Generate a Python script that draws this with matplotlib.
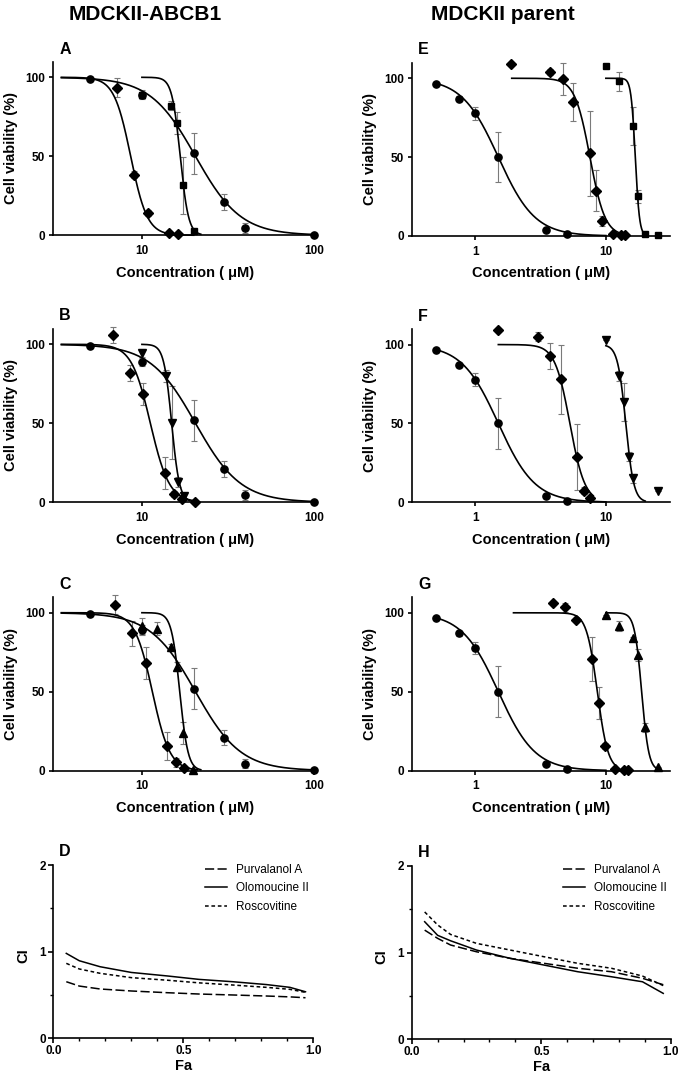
import numpy as np
import matplotlib.pyplot as plt
from matplotlib.lines import Line2D
from matplotlib.ticker import NullLocator

plt.rcParams["font.family"] = ["Liberation Sans", "DejaVu Sans"]

W, H = 683, 1081

# ---------------- data ----------------
# MDCKII-ABCB1, circle series (shared by A, B, C)
abcb1_circ_x = [5, 10, 20, 30, 40, 100]
abcb1_circ_y = [99, 89, 52, 21, 4.5, 0.3]
abcb1_circ_err = [1, 3, 13, 5, 3, 0.5]
abcb1_circ_fit = (20.5, 3.3, 3.4, 100)  # IC50, hill slope, curve start, curve end

# panel A
a_dia_x = [7.2, 9, 10.8, 14.4, 16.2]
a_dia_y = [93.5, 38.4, 14, 1.7, 1]
a_dia_err = [6, 2, 2, 1, 1]
a_dia_fit = (8.6, 9.0, 3.4, 20)
a_sq_x = [10, 14.67, 16, 17.33, 20]
a_sq_y = [88.6, 82, 71, 31.6, 2.7]
a_sq_err = [2, 3, 7, 18, 1]
a_sq_fit = (16.7, 18.0, 10, 22)

# panel B
b_dia_x = [6.8, 8.5, 10.2, 13.6, 15.3, 17, 20.4]
b_dia_y = [106, 82, 68.6, 18.4, 5.3, 1.9, 0.4]
b_dia_err = [5, 5, 7, 10, 2, 1, 0.5]
b_dia_fit = (11.2, 7.9, 3.4, 21)
b_tri_x = [10, 13.75, 15, 16.25, 17.5]
b_tri_y = [94.3, 80, 50.4, 12.7, 4.2]
b_tri_err = [3, 4, 23, 3, 2]
b_tri_fit = (14.9, 19.0, 10, 19)

# panel C
c_dia_x = [7, 8.75, 10.5, 14, 15.75, 17.5]
c_dia_y = [105, 87, 68, 15.6, 5.3, 1.9]
c_dia_err = [6, 8, 10, 9, 3, 1]
c_dia_fit = (11.5, 8.5, 3.4, 21)
c_tri_x = [10, 12.3, 14.8, 16, 17.3, 19.7]
c_tri_y = [91.6, 90, 78, 65.8, 23.6, 0.4]
c_tri_err = [5, 4, 2, 3, 7, 0.5]
c_tri_fit = (16.6, 18.0, 10, 22)

# MDCKII parent, circle series (shared by E, F, G)
par_circ_x = [0.5, 0.75, 1, 1.5, 3.5, 5]
par_circ_y = [96.6, 87, 77.7, 50, 4, 1]
par_circ_err = [1, 1.5, 4, 16, 1, 0.5]
par_circ_fit = (1.5, 3.1, 0.5, 10)

# panel E
e_dia_x = [1.875, 3.75, 4.69, 5.63, 7.5, 8.44, 9.38, 11.25, 13.13, 14.06]
e_dia_y = [109, 104, 99.4, 84.7, 52.5, 28.6, 9.5, 1.3, 0.4, 0.4]
e_dia_err = [0, 2, 10, 12, 27, 13, 3, 0.5, 0.5, 0.5]
e_dia_fit = (7.55, 7.5, 1.9, 14)
e_sq_x = [10, 12.5, 16.25, 17.5, 20, 25]
e_sq_y = [108, 98, 70, 25.2, 1, 0.4]
e_sq_err = [0, 6, 12, 4, 0.5, 0.5]
e_sq_fit = (16.8, 27.0, 10, 20)

# panel F
f_dia_x = [1.5, 3, 3.75, 4.5, 6, 6.75, 7.5]
f_dia_y = [109.5, 105, 92.8, 78, 28.5, 7.4, 3]
f_dia_err = [0, 3, 8, 22, 21, 2, 1]
f_dia_fit = (5.3, 7.6, 1.5, 8)
f_tri_x = [10, 12.5, 13.75, 15, 16.25, 25]
f_tri_y = [103, 80, 63.7, 29, 15.2, 7.2]
f_tri_err = [0, 3, 12, 3, 3, 0]
f_tri_fit = (14.2, 14.0, 10, 20)

# panel G
g_dia_x = [3.92, 4.9, 5.88, 7.84, 8.82, 9.8, 11.76, 13.72, 14.7]
g_dia_y = [106.3, 103.4, 95.4, 70.5, 43, 15.8, 0.8, 0.4, 0.4]
g_dia_err = [0, 3, 1, 14, 10, 2, 0.5, 0.5, 0.5]
g_dia_fit = (8.6, 10.5, 1.96, 12)
g_tri_x = [10, 12.5, 16.25, 17.5, 20, 25]
g_tri_y = [98.9, 91.6, 83.8, 73.2, 27.4, 2.1]
g_tri_err = [0, 3, 1, 4, 3, 0.5]
g_tri_fit = (18.8, 16.0, 10, 25)

# combination index panels
ci_labels = ["Purvalanol A", "Olomoucine II", "Roscovitine"]
d_fa = [0.05, 0.1, 0.18, 0.3, 0.44, 0.56, 0.69, 0.82, 0.91, 0.97]
d_purv = [0.653, 0.603, 0.569, 0.546, 0.526, 0.511, 0.5, 0.488, 0.478, 0.468]
d_olo = [0.98, 0.895, 0.826, 0.76, 0.719, 0.68, 0.653, 0.62, 0.588, 0.537]
d_rosc = [0.865, 0.80, 0.75, 0.70, 0.67, 0.64, 0.615, 0.588, 0.565, 0.53]
h_fa = [0.05, 0.1, 0.15, 0.25, 0.38, 0.51, 0.64, 0.77, 0.89, 0.97]
h_purv = [1.26, 1.165, 1.088, 1.01, 0.934, 0.877, 0.82, 0.78, 0.704, 0.63]
h_olo = [1.357, 1.2, 1.137, 1.03, 0.934, 0.857, 0.78, 0.722, 0.664, 0.53]
h_rosc = [1.47, 1.32, 1.21, 1.107, 1.03, 0.953, 0.877, 0.82, 0.73, 0.62]

# ---------------- drawing ----------------
fig = plt.figure(figsize=(W / 100, H / 100), dpi=100)

SPINE_W = 1.2
LINE_W = 1.2
DASH_STYLES = [(0, (6, 2.2)), "solid", (0, (2.4, 1.8))]


def add_ax(left, top, right, bottom):
    return fig.add_axes([left / W, 1 - bottom / H, (right - left) / W, (bottom - top) / H])


def fig_text(x, y, s, **kw):
    fig.text(x / W, 1 - y / H, s, **kw)


def hill(x, ic50, slope):
    return 100.0 / (1.0 + (x / ic50) ** slope)


def style_axes(ax):
    for side in ("top", "right"):
        ax.spines[side].set_visible(False)
    for side in ("left", "bottom"):
        ax.spines[side].set_linewidth(SPINE_W)


def draw_series(ax, x, y, err, fit, marker, ms):
    ic50, slope, lo, hi = fit
    xs = np.geomspace(lo, hi, 300)
    ax.plot(xs, hill(xs, ic50, slope), color="black", lw=LINE_W, zorder=3, clip_on=False)
    ax.errorbar(x, y, yerr=err, fmt="none", ecolor="#7a7a7a", elinewidth=0.8,
                capsize=2, capthick=0.8, zorder=2, clip_on=False)
    ax.plot(x, y, ls="none", marker=marker, ms=ms, color="black", zorder=4, clip_on=False)


def dose_panel(box, xlim, xticks, letter, series):
    left, top, right, bottom = box
    ax = add_ax(left, top, right, bottom)
    style_axes(ax)
    ax.set_xscale("log")
    ax.set_xlim(*xlim)
    ax.set_ylim(0, 110)
    for s in series:
        draw_series(ax, *s)
    ax.set_xticks(xticks, labels=[str(t) for t in xticks], fontweight="bold")
    ax.xaxis.set_minor_locator(NullLocator())
    ax.set_yticks([0, 50, 100], labels=["0", "50", "100"], fontweight="bold")
    ax.tick_params(direction="out", length=3, width=SPINE_W, labelsize=8.5)
    ax.tick_params(axis="x", pad=4)
    ax.tick_params(axis="y", pad=3)
    cx = (left + right) / 2
    fig_text(cx, bottom + 41.5, "Concentration ( \u03bcM)", ha="center", va="baseline",
             fontsize=10.5, fontweight="bold")
    fig_text(left - 42, (top + bottom) / 2, "Cell viability (%)", ha="center", va="center",
             rotation=90, fontsize=10.5, fontweight="bold")
    fig_text(left + 6, top - 8, letter, ha="left", va="baseline", fontsize=11.5,
             fontweight="bold")
    return ax


def ci_panel(box, letter, fa, curves, legend_xy):
    left, top, right, bottom = box
    ax = add_ax(left, top, right, bottom)
    style_axes(ax)
    ax.set_xlim(0, 1)
    ax.set_ylim(0, 2)
    handles = []
    for vals, ls in zip(curves, DASH_STYLES):
        ax.plot(fa, vals, color="black", lw=1.1, ls=ls, zorder=3)
        handles.append(Line2D([], [], color="black", lw=1.1, ls=ls))
    ax.set_xticks([0, 0.5, 1.0], labels=["0.0", "0.5", "1.0"], fontweight="bold")
    ax.set_xticks(np.arange(0.1, 1.0, 0.1), minor=True)
    ax.set_yticks([0, 1, 2], labels=["0", "1", "2"], fontweight="bold")
    ax.set_yticks([0.5, 1.5], minor=True)
    ax.tick_params(which="major", direction="out", length=3.5, width=SPINE_W, labelsize=8.5)
    ax.tick_params(which="minor", direction="out", length=2.5, width=1.0)
    ax.tick_params(axis="x", which="major", pad=1.5)
    ax.tick_params(axis="y", which="major", pad=2)
    fig.legend(handles, ci_labels, loc="upper left", frameon=False, fontsize=8.5,
               handlelength=1.9, handletextpad=0.75, labelspacing=0.55,
               borderpad=0, borderaxespad=0,
               bbox_to_anchor=(legend_xy[0] / W, 1 - legend_xy[1] / H))
    fig_text((left + right) / 2, bottom + 31.5, "Fa", ha="center", va="baseline",
             fontsize=10.5, fontweight="bold")
    fig_text(left - 30, (top + bottom) / 2 + 4, "CI", ha="center", va="center",
             rotation=90, fontsize=10.5, fontweight="bold")
    fig_text(left + 6, top - 9, letter, ha="left", va="baseline", fontsize=11.5,
             fontweight="bold")
    return ax


abcb1_circ = (abcb1_circ_x, abcb1_circ_y, abcb1_circ_err, abcb1_circ_fit, "o", 5.2)
par_circ = (par_circ_x, par_circ_y, par_circ_err, par_circ_fit, "o", 5.2)

left_xlim = (3.05, 104)
right_xlim = (0.327, 31)

dose_panel((53.3, 61.5, 316.7, 235.3), left_xlim, [10, 100], "A", [
    abcb1_circ,
    (a_dia_x, a_dia_y, a_dia_err, a_dia_fit, "D", 4.8),
    (a_sq_x, a_sq_y, a_sq_err, a_sq_fit, "s", 5),
])
dose_panel((53.3, 328.5, 316.7, 502.3), left_xlim, [10, 100], "B", [
    abcb1_circ,
    (b_dia_x, b_dia_y, b_dia_err, b_dia_fit, "D", 4.8),
    (b_tri_x, b_tri_y, b_tri_err, b_tri_fit, "v", 5.3),
])
dose_panel((53.3, 596.9, 316.7, 770.7), left_xlim, [10, 100], "C", [
    abcb1_circ,
    (c_dia_x, c_dia_y, c_dia_err, c_dia_fit, "D", 4.8),
    (c_tri_x, c_tri_y, c_tri_err, c_tri_fit, "^", 5.3),
])
dose_panel((412, 62.5, 670, 236), right_xlim, [1, 10], "E", [
    par_circ,
    (e_dia_x, e_dia_y, e_dia_err, e_dia_fit, "D", 4.8),
    (e_sq_x, e_sq_y, e_sq_err, e_sq_fit, "s", 5),
])
dose_panel((412, 328.8, 670, 502.3), right_xlim, [1, 10], "F", [
    par_circ,
    (f_dia_x, f_dia_y, f_dia_err, f_dia_fit, "D", 4.8),
    (f_tri_x, f_tri_y, f_tri_err, f_tri_fit, "v", 5.3),
])
dose_panel((412, 597, 670, 770.7), right_xlim, [1, 10], "G", [
    par_circ,
    (g_dia_x, g_dia_y, g_dia_err, g_dia_fit, "D", 4.8),
    (g_tri_x, g_tri_y, g_tri_err, g_tri_fit, "^", 5.3),
])

ci_panel((53.3, 865, 313.3, 1038.3), "D", d_fa, [d_purv, d_olo, d_rosc], (205, 864))
ci_panel((411.7, 866, 671, 1039.3), "H", h_fa, [h_purv, h_olo, h_rosc], (562.7, 864))

fig_text(145, 20.5, "MDCKII-ABCB1", ha="center", va="baseline", fontsize=15, fontweight="bold")
fig_text(503, 20.5, "MDCKII parent", ha="center", va="baseline", fontsize=15, fontweight="bold")

fig.savefig("out.png", dpi=100)
